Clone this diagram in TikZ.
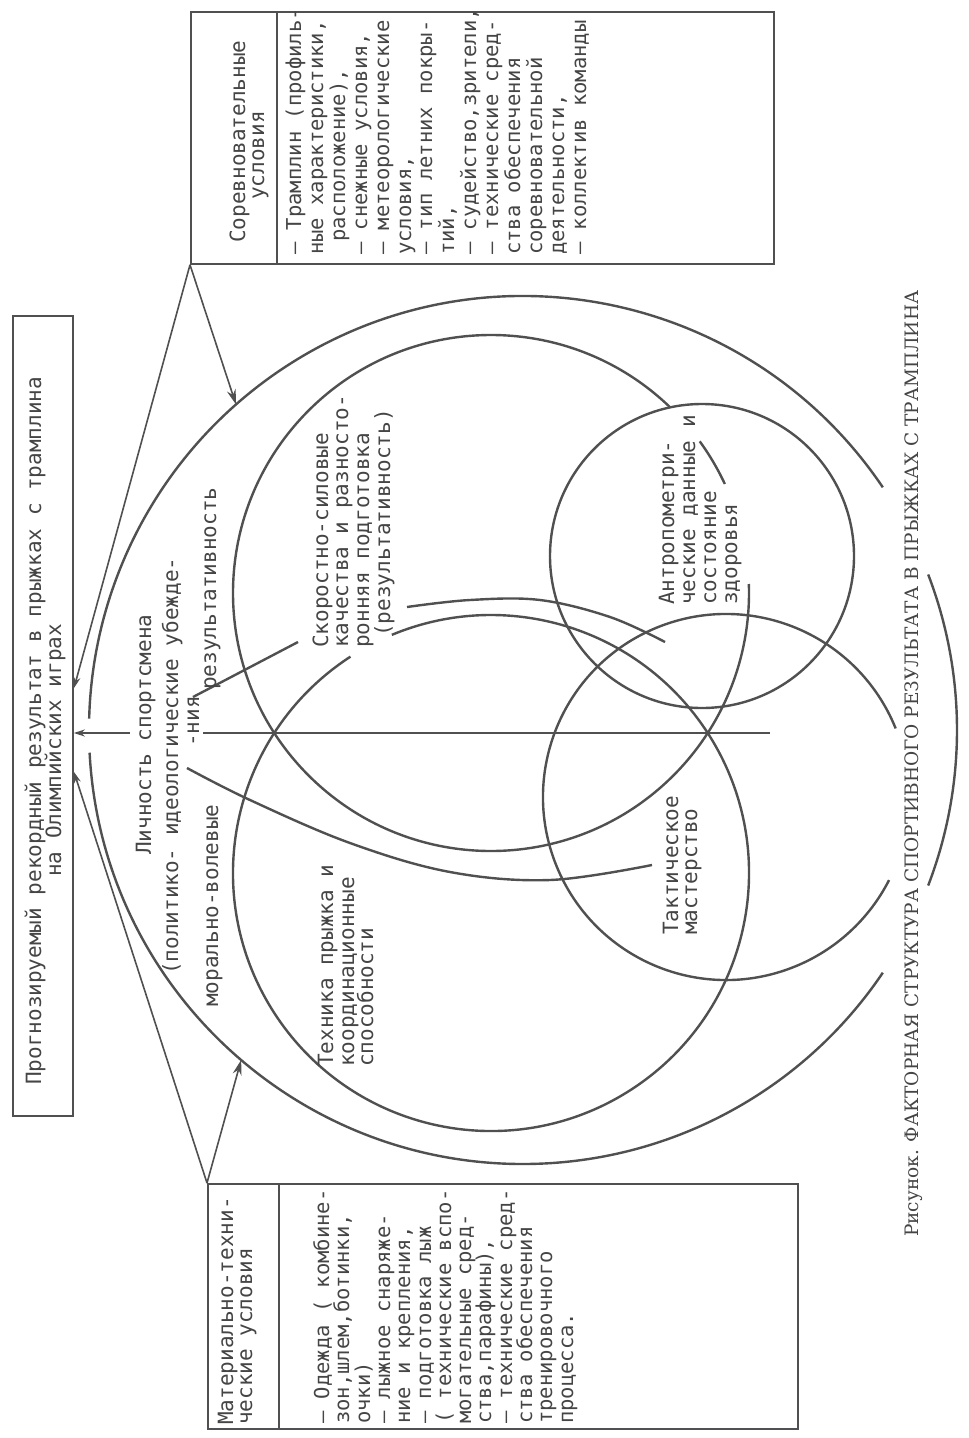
\documentclass[tikz,border=0pt]{standalone}
\usepackage{fontspec}
\newfontfamily\twfont{DejaVu Sans Mono}
\newfontfamily\capfont{DejaVu Serif}
\usetikzlibrary{arrows.meta}
\definecolor{lc}{HTML}{505050}
\definecolor{tcol}{HTML}{454545}
\begin{document}
\begin{tikzpicture}[x=1pt,y=1pt,
  ln/.style={draw=lc, line width=2.4pt},
  bx/.style={draw=lc, line width=1.8pt, inner sep=0pt, anchor=north west},
  cn/.style={draw=lc, line width=1.6pt},
  ar/.style={-{Stealth[length=11pt,width=7pt]}},
  arb/.style={-{Stealth[length=15pt,width=9pt]}},
  txt/.style={rotate=90, anchor=base west, inner sep=0pt, text=tcol, font=\twfont\fontsize{21}{24}\selectfont},
  txs/.style={txt, font=\twfont\fontsize{20.5}{23}\selectfont},
  capt/.style={txt, font=\capfont\fontsize{18.5}{22}\selectfont}]
\fill[white] (0,0) rectangle (969,-1438);
\useasboundingbox (0,0) rectangle (969,-1438);

% boxes
\node[bx, minimum width=60pt, minimum height=800pt] (lbox) at (12,-315) {};
\node[bx, minimum width=583pt, minimum height=252pt] (sor) at (190,-11) {};
\draw[bx] ([xshift=87pt]sor.north west) -- ([xshift=87pt]sor.south west);
\node[bx, minimum width=590pt, minimum height=245pt] (mat) at (207,-1183) {};
\draw[bx] ([xshift=72pt]mat.north west) -- ([xshift=72pt]mat.south west);

% centres
\coordinate (oc) at (523,-730);
\coordinate (sc) at (491,-593);
\coordinate (tc) at (491,-873);
\coordinate (c1c) at (702,-556);
\coordinate (c2c) at (726,-797);

% outer circle
\draw[ln] ([shift={(34:434)}]oc) arc[start angle=34,end angle=178.5,radius=434];
\draw[ln] ([shift={(183:434)}]oc) arc[start angle=183,end angle=326,radius=434];
\draw[ln] ([shift={(339:434)}]oc) arc[start angle=339,end angle=381,radius=434];
% big factor circles
\draw[ln] ([shift={(25:258)}]sc) arc[start angle=25,end angle=36,radius=258];
\draw[ln] ([shift={(46:258)}]sc) arc[start angle=46,end angle=362,radius=258];
\draw[ln] ([shift={(123:258)}]tc) arc[start angle=123,end angle=472.6,radius=258];
% small circles
\draw[ln] (c1c) circle[radius=152];
\draw[ln] ([shift={(22:183)}]c2c) arc[start angle=22,end angle=333,radius=183];

% horizontal axis
\coordinate (h1) at (770,-733);
\coordinate (h2) at (203,-733);
\coordinate (h3) at (130,-733);
\draw[ln] (h1) -- (h2);
\draw[ln,ar] (h3) -- (lbox.east |- h3);

% connectors from the condition boxes
\coordinate (a1) at (74,-688);
\coordinate (a3) at (74,-772);
\draw[cn,ar] (sor.south west) -- (a1);
\draw[cn,arb] (sor.south west) -- ([shift={(131.4:434)}]oc);
\draw[cn,ar] (mat.north west) -- (a3);
\draw[cn,arb] (mat.north west) -- ([shift={(229.5:434)}]oc);

% pointer curves
\coordinate (l1a) at (193,-697);
\coordinate (l1b) at (298,-642);
\draw[ln] (l1a) -- (l1b);
\draw[ln] plot[smooth, tension=0.6] coordinates {(187,-768) (250,-800) (350,-843) (450,-872) (550,-880) (652,-865)};
\draw[ln] plot[smooth, tension=0.6] coordinates {(407,-607) (470,-600) (540,-600) (610,-617) (665,-642)};

% left box
\node[txt] (t1) at (41,-1085) {Прогнозируемый рекордный результат в прыжках с трамплина};
\node[txt] (t2) at (61,-877) {на Олимпийских играх};

% competition conditions
\node[txt] (s0a) at (245,-243) {Соревновательные};
\node[txt] (s0b) at (264,-200) {условия};
\node[txs] (s1) at (301,-255) {– Трамплин (профиль-};
\node[txs] (s2) at (323,-255) {ные характеристики,};
\node[txs] (s3) at (345,-242) {расположение),};
\node[txs] (s4) at (367,-255) {– снежные условия,};
\node[txs] (s5) at (389,-255) {– метеорологические};
\node[txs] (s6) at (411,-255) {условия,};
\node[txs] (s7) at (432,-255) {– тип летних покры-};
\node[txs] (s8) at (454,-255) {тий,};
\node[txs] (s9) at (476,-255) {– судейство,зрители,};
\node[txs] (s10) at (498,-255) {– технические сред-};
\node[txs] (s11) at (520,-255) {ства обеспечения};
\node[txs] (s12) at (542,-255) {соревновательной};
\node[txs] (s13) at (564,-255) {деятельности,};
\node[txs] (s14) at (586,-255) {– коллектив команды};

% material conditions
\node[txt] (m0a) at (233,-1425) {Материально-техни-};
\node[txt] (m0b) at (252,-1425) {ческие условия};
\node[txs] (m1) at (329,-1424) {– Одежда ( комбине-};
\node[txs] (m2) at (349,-1424) {зон,шлем,ботинки,};
\node[txs] (m3) at (370,-1424) {очки)};
\node[txs] (m4) at (390,-1424) {– лыжное снаряже-};
\node[txs] (m5) at (410,-1424) {ние и крепления,};
\node[txs] (m6) at (431,-1424) {– подготовка лыж};
\node[txs] (m7) at (451,-1424) {( технические вспо-};
\node[txs] (m8) at (471,-1424) {могательные сред-};
\node[txs] (m9) at (491,-1424) {ства,парафины),};
\node[txs] (m10) at (512,-1424) {– технические сред-};
\node[txs] (m11) at (532,-1424) {ства обеспечения};
\node[txs] (m12) at (552,-1424) {тренировочного};
\node[txs] (m13) at (573,-1424) {процесса.};

% personality
\node[txt] (p1) at (151,-855) {Личность спортсмена};
\node[txt] (p2) at (178,-975) {(политико- идеологические убежде-};
\node[txt] (p3) at (199,-747) {-ния};
\node[txt] (p4) at (216,-690) {результативность};
\node[txt] (p5) at (218,-1007) {морально-волевые};

% speed-strength
\node[txt] (k1) at (328,-648) {Скоростно-силовые};
\node[txt] (k2) at (348,-648) {качества и разносто-};
\node[txt] (k3) at (369,-648) {ронняя подготовка};
\node[txt] (k4) at (390,-637) {(результативность)};

% technique
\node[txt] (e1) at (333,-1067) {Техника прыжка и};
\node[txt] (e2) at (354,-1067) {координационные};
\node[txt] (e3) at (373,-1067) {способности};

% anthropometry
\node[txt] (n1) at (674,-605) {Антропометри-};
\node[txt] (n2) at (695,-605) {ческие данные и};
\node[txt] (n3) at (716,-605) {состояние};
\node[txt] (n4) at (737,-605) {здоровья};

% tactics
\node[txt] (q1) at (678,-935) {Тактическое};
\node[txt] (q2) at (697,-935) {мастерство};

% caption
\node[capt] (cap) at (918,-1237) {Рисунок. ФАКТОРНАЯ СТРУКТУРА СПОРТИВНОГО РЕЗУЛЬТАТА В ПРЫЖКАХ С ТРАМПЛИНА};
\end{tikzpicture}
\end{document}
